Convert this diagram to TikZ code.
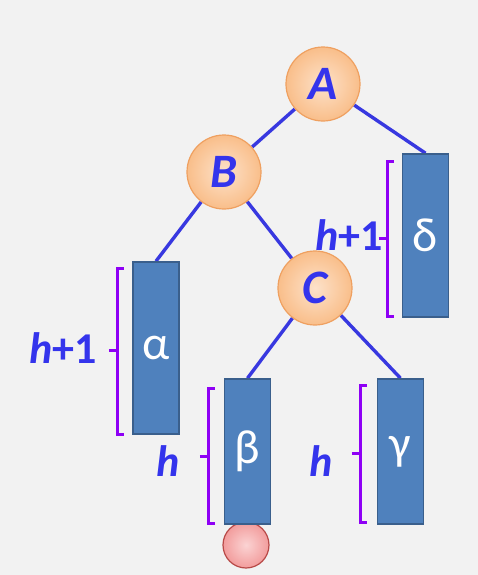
\documentclass[tikz,border=0pt]{standalone}
\usepackage{fontspec}
\setmainfont{Carlito}
\usetikzlibrary{backgrounds}

\definecolor{bg}{HTML}{F2F2F2}
\definecolor{edgeblue}{HTML}{3838E0}
\definecolor{txtblue}{HTML}{3434EC}
\definecolor{boxfill}{HTML}{4F81BD}
\definecolor{boxline}{HTML}{3A5F8C}
\definecolor{nodein}{HTML}{FDE2CA}
\definecolor{nodeout}{HTML}{F9BE8A}
\definecolor{nodeline}{HTML}{EFA060}
\definecolor{newin}{HTML}{FBD3D3}
\definecolor{newout}{HTML}{F29C9C}
\definecolor{newline}{HTML}{B84A48}
\definecolor{brk}{HTML}{8E00F5}

\begin{document}
\begin{tikzpicture}[
    x=0.5pt, y=-0.5pt,
    knot/.style={circle, minimum size=37pt, inner sep=0pt, draw=nodeline, line width=0.6pt,
        inner color=nodein, outer color=nodeout, text=txtblue,
        font=\fontsize{24}{24}\selectfont\bfseries\itshape}, % 树结点
    subtree/.style={rectangle, minimum width=23pt, inner sep=0pt, draw=boxline, line width=0.8pt,
        fill=boxfill, text=white, font=\fontsize{24}{24}\selectfont}, % 子树
    newnode/.style={circle, minimum size=23pt, inner sep=0pt, draw=newline, line width=0.6pt,
        inner color=newin, outer color=newout}, % 新插入结点
    edge/.style={edgeblue, line width=1.7pt},
    lbl/.style={inner sep=0pt, text=txtblue, font=\fontsize{22}{22}\selectfont\bfseries}
]
\useasboundingbox (0,0) rectangle (478,575);

% ========== 结点 ==========
\node[knot] (A) at (323,84) {A};
\node[knot] (B) at (224,172) {B};
\node[knot] (C) at (315,288) {C};

% ========== 子树 ==========
\node[newnode] (x) at (246,545) {};
\node[subtree, minimum height=86pt] (alpha) at (156,348) {α};
\node[subtree, minimum height=72.5pt] (beta) at (247.5,451.5) {β};
\node[subtree, minimum height=72.5pt] (gamma) at (400.5,451.5) {γ};
\node[subtree, minimum height=81.5pt] (delta) at (425.5,235.5) {δ};

% 连线
\begin{scope}[on background layer]
    \fill[bg] (0,0) rectangle (478,575);
    \draw[edge] (A) -- (B);
    \draw[edge] (A) -- (delta.north);
    \draw[edge] (B) -- (alpha.north);
    \draw[edge] (B) -- (C);
    \draw[edge] (C) -- (beta.north);
    \draw[edge] (C) -- (gamma.north);
\end{scope}

% ========== 高度括号 ==========
\foreach \x/\ya/\yb/\ym in {118/268/434/350, 388/161/316/238, 209/388/523/456, 361/385/522/453} {
    \draw[brk, line width=1.5pt] (\x+6,\ya) -- (\x,\ya) -- (\x,\yb) -- (\x+6,\yb);
    \draw[brk, line width=1.5pt] (\x-9,\ym) -- (\x,\ym); % 中间小尖
}

% 高度标注
\node[lbl] (ha) at (63,348) {\textit{h}+1};
\node[lbl] (hd) at (349,235) {\textit{h}+1};
\node[lbl] (hb) at (168,461) {\textit{h}};
\node[lbl] (hc) at (321,461) {\textit{h}};

\end{tikzpicture}
\end{document}
